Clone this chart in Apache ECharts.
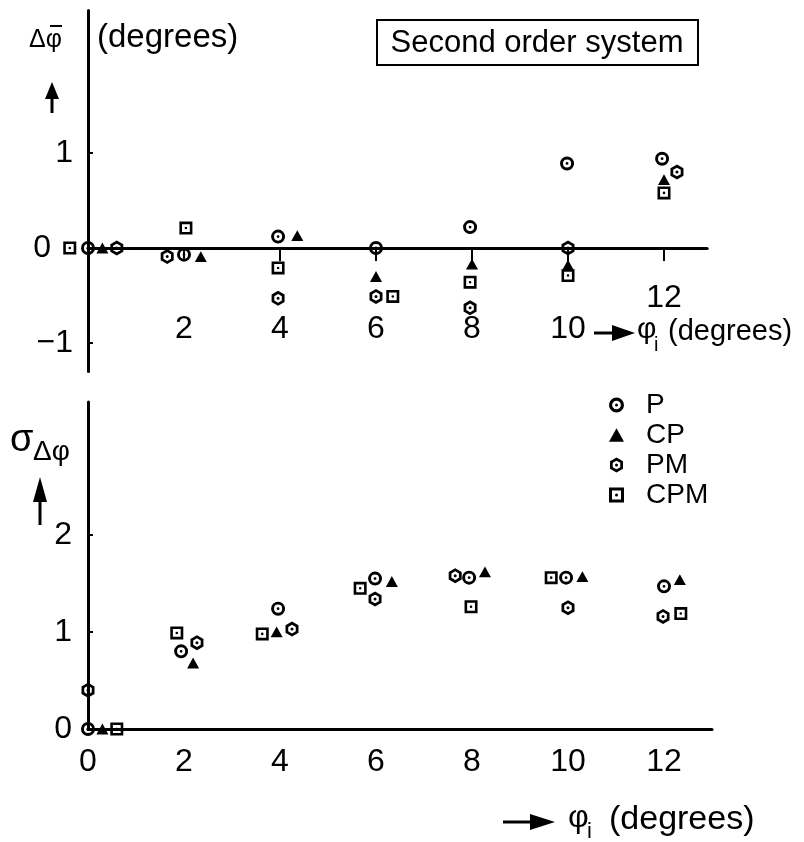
<!DOCTYPE html>
<html>
<head>
<meta charset="utf-8">
<script src="https://cdn.jsdelivr.net/npm/echarts@6/dist/echarts.min.js"></script>
<style>
html,body{margin:0;padding:0;background:#fff;}
#chart{width:804px;height:842px;}
</style>
</head>
<body>
<div id="chart"></div>
<script>
// ---------- data ----------
const seriesNames = ['P', 'CP', 'PM', 'CPM'];

// Top panel: mean error Δφ̄ (degrees) vs φi (markers slightly offset around each φi)
const topP_x   = [0, 2.0, 3.96, 6.0, 7.96, 9.98, 11.96];
const topP_y   = [0, -0.07, 0.12, 0, 0.22, 0.89, 0.94];
const topCP_x  = [0.3, 2.35, 4.36, 6.0, 8.0, 10.0, 12.0];
const topCP_y  = [0, -0.09, 0.13, -0.3, -0.17, -0.18, 0.72];
const topPM_x  = [0.6, 1.65, 3.96, 6.0, 7.96, 10.0, 12.27];
const topPM_y  = [0, -0.09, -0.53, -0.51, -0.63, 0, 0.80];
const topCPM_x = [-0.38, 2.04, 3.96, 6.35, 7.96, 10.0, 12.0];
const topCPM_y = [0, 0.21, -0.21, -0.51, -0.36, -0.29, 0.58];

// Bottom panel: standard deviation σΔφ vs φi
const botP_x   = [0, 1.94, 3.96, 5.98, 7.94, 9.96, 12.0];
const botP_y   = [0, 0.80, 1.24, 1.55, 1.56, 1.56, 1.47];
const botCP_x  = [0.3, 2.19, 3.93, 6.33, 8.27, 10.3, 12.33];
const botCP_y  = [0, 0.68, 1.00, 1.52, 1.62, 1.57, 1.54];
const botPM_x  = [0, 2.27, 4.25, 5.98, 7.65, 10.0, 11.98];
const botPM_y  = [0.40, 0.89, 1.03, 1.34, 1.58, 1.25, 1.16];
const botCPM_x = [0.6, 1.85, 3.63, 5.67, 7.98, 9.65, 12.35];
const botCPM_y = [0, 0.99, 0.98, 1.45, 1.26, 1.56, 1.19];

// tick labels
const topXLabels = [2, 4, 6, 8, 10, 12];
const topYLabels = [-1, 0, 1];
const botXLabels = [0, 2, 4, 6, 8, 10, 12];
const botYLabels = [0, 1, 2];

// ---------- styling ----------
const FONT = 'Liberation Sans';
const DOT = 'M8,10A2,2,0,1,1,12,10A2,2,0,1,1,8,10Z';
const RING = 'path://M0,10A10,10,0,1,1,20,10A10,10,0,1,1,0,10ZM4.2,10A5.8,5.8,0,1,0,15.8,10A5.8,5.8,0,1,0,4.2,10Z' + DOT;
const HEX = 'path://M10,0L18.66,5L18.66,15L10,20L1.34,15L1.34,5ZM10,4.2L4.98,7.1L4.98,12.9L10,15.8L15.02,12.9L15.02,7.1Z' + DOT;
const SQR = 'path://M0,0L20,0L20,20L0,20ZM4,4L4,16L16,16L16,4Z' + DOT;
const TRI = 'path://M10,0L20,18L0,18Z';
const symbols = { P: RING, CP: TRI, PM: HEX, CPM: SQR };
const sizes = { P: 14, CP: 12, PM: 15, CPM: 13 };

function zip(xs, ys) { return xs.map((x, i) => [x, ys[i]]); }

const topData = { P: zip(topP_x, topP_y), CP: zip(topCP_x, topCP_y), PM: zip(topPM_x, topPM_y), CPM: zip(topCPM_x, topCPM_y) };
const botData = { P: zip(botP_x, botP_y), CP: zip(botCP_x, botCP_y), PM: zip(botPM_x, botPM_y), CPM: zip(botCPM_x, botCPM_y) };

const series = [];
seriesNames.forEach(n => {
  series.push({ name: n, type: 'scatter', xAxisIndex: 0, yAxisIndex: 0, data: topData[n],
    symbol: symbols[n], symbolSize: sizes[n], symbolKeepAspect: true, clip: false,
    itemStyle: { color: '#000', opacity: 1 }, emphasis: { disabled: true }, z: 5 });
  series.push({ name: n, type: 'scatter', xAxisIndex: 1, yAxisIndex: 1, data: botData[n],
    symbol: symbols[n], symbolSize: sizes[n], symbolKeepAspect: true, clip: false,
    itemStyle: { color: '#000', opacity: 1 }, emphasis: { disabled: true }, z: 5 });
});

const axisLineStyle = { color: '#000', width: 3 };
const labelStyle = { color: '#000', fontFamily: FONT, fontSize: 32 };

const option = {
  backgroundColor: '#fff',
  animation: false,
  grid: [
    { left: 88, top: 10.5, width: 619.2, height: 361 },
    { left: 88, top: 402, width: 624, height: 327 }
  ],
  xAxis: [
    { type: 'value', gridIndex: 0, min: 0, max: 12.9,
      axisLine: { show: true, onZero: true, lineStyle: axisLineStyle },
      axisTick: { show: true, inside: false, length: 13, customValues: topXLabels, lineStyle: { color: '#000', width: 2 } },
      axisLabel: Object.assign({}, labelStyle, { customValues: topXLabels, margin: -27, verticalAlign: 'bottom', lineHeight: 31,
        formatter: v => (v === 12 ? '12\n' : String(v)) }),
      splitLine: { show: false } },
    { type: 'value', gridIndex: 1, min: 0, max: 13,
      axisLine: { show: true, onZero: true, lineStyle: axisLineStyle },
      axisTick: { show: false },
      axisLabel: Object.assign({}, labelStyle, { customValues: botXLabels, margin: 17 }),
      splitLine: { show: false } }
  ],
  yAxis: [
    { type: 'value', gridIndex: 0, min: -1.3, max: 2.5,
      axisLine: { show: true, onZero: true, lineStyle: axisLineStyle },
      axisTick: { show: true, inside: true, length: 5, customValues: [-1, 1], lineStyle: { color: '#000', width: 2 } },
      axisLabel: Object.assign({}, labelStyle, { customValues: topYLabels, margin: 15,
        formatter: v => (v === 0 ? '{z|0}' : (v < 0 ? '\u2212' + Math.abs(v) : String(v))),
        rich: { z: { fontFamily: FONT, fontSize: 32, color: '#000', padding: [0, 22, 0, 0] } } }),
      splitLine: { show: false } },
    { type: 'value', gridIndex: 1, min: 0, max: 3.37,
      axisLine: { show: true, onZero: true, lineStyle: axisLineStyle },
      axisTick: { show: true, inside: true, length: 5, customValues: [1, 2], lineStyle: { color: '#000', width: 2 } },
      axisLabel: Object.assign({}, labelStyle, { customValues: botYLabels, margin: 16 }),
      splitLine: { show: false } }
  ],
  legend: {
    data: seriesNames, orient: 'vertical', left: 604, top: 386, itemWidth: 15, itemHeight: 15, itemGap: 2,
    selectedMode: false,
    textStyle: { color: '#000', fontFamily: FONT, fontSize: 28, lineHeight: 28, padding: [0, 0, 0, 17] }
  },
  graphic: [
    // top-left axis label  Δφ̄
    { type: 'text', x: 29, y: 40, style: { text: '\u0394\u03C6', fontFamily: FONT, fontSize: 25, fill: '#000', verticalAlign: 'middle' } },
    { type: 'line', shape: { x1: 50, y1: 26, x2: 62, y2: 26 }, style: { stroke: '#000', lineWidth: 2 } },
    { type: 'polygon', shape: { points: [[52, 82], [45, 99], [59, 99]] }, style: { fill: '#000' } },
    { type: 'line', shape: { x1: 52, y1: 97, x2: 52, y2: 113 }, style: { stroke: '#000', lineWidth: 3 } },
    { type: 'text', left: 97, top: 21, style: { text: '(degrees)', fontFamily: FONT, fontSize: 33, fill: '#000' } },
    // title box
    { type: 'rect', shape: { x: 377, y: 20, width: 321, height: 45 }, style: { fill: 'none', stroke: '#000', lineWidth: 2 } },
    { type: 'text', x: 537, y: 43, style: { text: 'Second order system', fontFamily: FONT, fontSize: 31, fill: '#000', align: 'center', verticalAlign: 'middle' } },
    // top-right x-axis label
    { type: 'polygon', shape: { points: [[635, 333], [612, 325], [612, 341]] }, style: { fill: '#000' } },
    { type: 'line', shape: { x1: 594, y1: 333, x2: 615, y2: 333 }, style: { stroke: '#000', lineWidth: 3 } },
    { type: 'text', x: 637, y: 330, style: { text: '\u03C6', fontFamily: FONT, fontSize: 30, fill: '#000', verticalAlign: 'middle' } },
    { type: 'text', x: 654, y: 345, style: { text: 'i', fontFamily: FONT, fontSize: 20, fill: '#000', verticalAlign: 'middle' } },
    { type: 'text', x: 668, y: 332, style: { text: '(degrees)', fontFamily: FONT, fontSize: 29, fill: '#000', verticalAlign: 'middle' } },
    // bottom-left y label
    { type: 'text', x: 10, y: 441, style: { text: '\u03C3', fontFamily: FONT, fontSize: 38, fill: '#000', verticalAlign: 'middle' } },
    { type: 'text', x: 33, y: 452, style: { text: '\u0394\u03C6', fontFamily: FONT, fontSize: 28, fill: '#000', verticalAlign: 'middle' } },
    { type: 'polygon', shape: { points: [[40, 477], [33, 502], [47, 502]] }, style: { fill: '#000' } },
    { type: 'line', shape: { x1: 40, y1: 498, x2: 40, y2: 525 }, style: { stroke: '#000', lineWidth: 3 } },
    // bottom x-axis label
    { type: 'polygon', shape: { points: [[555, 822], [530, 814], [530, 830]] }, style: { fill: '#000' } },
    { type: 'line', shape: { x1: 503, y1: 822, x2: 534, y2: 822 }, style: { stroke: '#000', lineWidth: 3 } },
    { type: 'text', x: 568, y: 818, style: { text: '\u03C6', fontFamily: FONT, fontSize: 32, fill: '#000', verticalAlign: 'middle' } },
    { type: 'text', x: 587, y: 832, style: { text: 'i', fontFamily: FONT, fontSize: 22, fill: '#000', verticalAlign: 'middle' } },
    { type: 'text', x: 609, y: 820, style: { text: '(degrees)', fontFamily: FONT, fontSize: 34, fill: '#000', verticalAlign: 'middle' } }
  ],
  series: series
};

const chart = echarts.init(document.getElementById('chart'), null, { renderer: 'canvas' });
chart.setOption(option);
</script>
</body>
</html>
